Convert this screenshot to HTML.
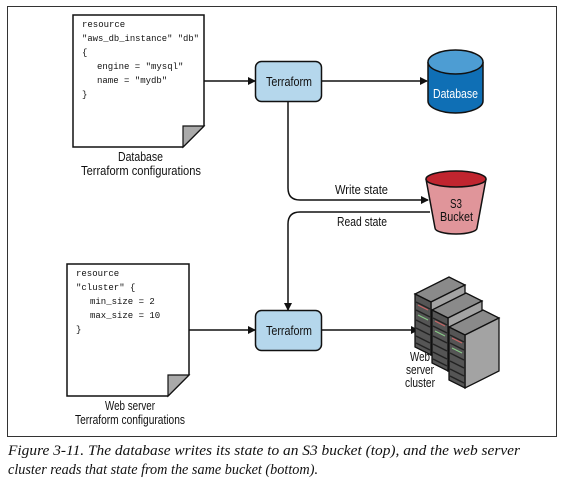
<!DOCTYPE html>
<html><head><meta charset="utf-8"><style>
html,body{margin:0;padding:0;background:#fff;}
svg{display:block;}
.lbl{font-family:"Liberation Sans Narrow","Liberation Sans",sans-serif;font-size:12.5px;fill:#111;}
.code{font-family:"Liberation Mono","DejaVu Sans Mono",monospace;font-size:9px;fill:#111;}
.cap{font-family:"Liberation Serif",serif;font-style:italic;font-size:15px;fill:#111;}
</style></head><body>
<svg width="567" height="479" viewBox="0 0 567 479" xmlns="http://www.w3.org/2000/svg">
<defs>
<marker id="ar" markerWidth="8" markerHeight="8" refX="7" refY="4" orient="auto" markerUnits="userSpaceOnUse">
<path d="M0,0 L8,4 L0,8 z" fill="#111"/></marker>
<g id="tower">
<polygon points="0,0 16,8 50,-9 34,-17" fill="#8a8a8a" stroke="#111" stroke-width="1.3"/>
<polygon points="16,8 50,-9 50,44 16,61" fill="#a3a3a3" stroke="#111" stroke-width="1.3"/>
<polygon points="0,0 16,8 16,61 0,53" fill="#555" stroke="#111" stroke-width="1.3"/>
<g stroke="#222" stroke-width="1.5">
<line x1="1" y1="8" x2="15" y2="15"/><line x1="1" y1="16" x2="15" y2="23"/>
<line x1="1" y1="26" x2="15" y2="33"/><line x1="1" y1="34" x2="15" y2="41"/>
<line x1="1" y1="42" x2="15" y2="49"/><line x1="1" y1="49" x2="15" y2="56"/>
</g>
<line x1="3" y1="11" x2="13" y2="16" stroke="#c66" stroke-width="1"/>
<line x1="3" y1="21" x2="13" y2="26" stroke="#8c8" stroke-width="1"/>
</g>
</defs>
<rect x="7.5" y="6.5" width="549" height="430" fill="none" stroke="#333" stroke-width="1"/>

<!-- doc 1 -->
<polygon points="73,15 204,15 204,126 183,147 73,147" fill="#fff" stroke="#111" stroke-width="1.5"/>
<polygon points="183,147 183,126 204,126" fill="#aaa" stroke="#111" stroke-width="1.2"/>
<text class="code" x="82" y="27">resource</text>
<text class="code" x="82" y="41" textLength="117" lengthAdjust="spacingAndGlyphs">"aws_db_instance" "db"</text>
<text class="code" x="82" y="55">{</text>
<text class="code" x="97" y="69">engine = "mysql"</text>
<text class="code" x="97" y="83">name = "mydb"</text>
<text class="code" x="82" y="97">}</text>
<text class="lbl" x="118" y="161" textLength="45" lengthAdjust="spacingAndGlyphs">Database</text>
<text class="lbl" x="81" y="175" textLength="120" lengthAdjust="spacingAndGlyphs">Terraform configurations</text>

<!-- doc 2 -->
<polygon points="67,264 189,264 189,375 168,396 67,396" fill="#fff" stroke="#111" stroke-width="1.5"/>
<polygon points="168,396 168,375 189,375" fill="#aaa" stroke="#111" stroke-width="1.2"/>
<text class="code" x="76" y="276">resource</text>
<text class="code" x="76" y="290">"cluster" {</text>
<text class="code" x="90" y="304">min_size = 2</text>
<text class="code" x="90" y="318">max_size = 10</text>
<text class="code" x="76" y="332">}</text>
<text class="lbl" x="105" y="410" textLength="50" lengthAdjust="spacingAndGlyphs">Web server</text>
<text class="lbl" x="75" y="424" textLength="110" lengthAdjust="spacingAndGlyphs">Terraform configurations</text>

<!-- connectors -->
<g stroke="#111" stroke-width="1.5" fill="none">
<line x1="204" y1="81" x2="255" y2="81" marker-end="url(#ar)"/>
<line x1="321" y1="81" x2="427" y2="81" marker-end="url(#ar)"/>
<path d="M288,101 L288,188 Q288,200 300,200 L428,200" marker-end="url(#ar)"/>
<path d="M430,212 L300,212 Q288,212 288,224 L288,310" marker-end="url(#ar)"/>
<line x1="189" y1="330" x2="255" y2="330" marker-end="url(#ar)"/>
<line x1="321" y1="330" x2="418" y2="330" marker-end="url(#ar)"/>
</g>
<text class="lbl" x="335" y="194" textLength="53" lengthAdjust="spacingAndGlyphs">Write state</text>
<text class="lbl" x="337" y="226" textLength="50" lengthAdjust="spacingAndGlyphs">Read state</text>

<!-- terraform boxes -->
<rect x="255.5" y="61.5" width="66" height="40" rx="6" fill="#b5d7ec" stroke="#111" stroke-width="1.5"/>
<text class="lbl" x="266" y="86" textLength="46" lengthAdjust="spacingAndGlyphs">Terraform</text>
<rect x="255.5" y="310.5" width="66" height="40" rx="6" fill="#b5d7ec" stroke="#111" stroke-width="1.5"/>
<text class="lbl" x="266" y="335" textLength="46" lengthAdjust="spacingAndGlyphs">Terraform</text>

<!-- database cylinder -->
<path d="M428,62 L428,101 A27.5,12 0 0 0 483,101 L483,62" fill="#0f6fb5" stroke="#111" stroke-width="1.5"/>
<ellipse cx="455.5" cy="62" rx="27.5" ry="12" fill="#4d9dd3" stroke="#111" stroke-width="1.5"/>
<text class="lbl" x="433" y="98" textLength="45" lengthAdjust="spacingAndGlyphs" style="fill:#fff">Database</text>

<!-- s3 bucket -->
<path d="M426,179 L435,228 A21,6 0 0 0 477,228 L486,179" fill="#e0959a" stroke="#111" stroke-width="1.5"/>
<ellipse cx="456" cy="179" rx="30" ry="8" fill="#c0252f" stroke="#111" stroke-width="1.5"/>
<text class="lbl" x="450" y="208" textLength="12" lengthAdjust="spacingAndGlyphs">S3</text>
<text class="lbl" x="440" y="221" textLength="33" lengthAdjust="spacingAndGlyphs">Bucket</text>

<!-- servers -->
<use href="#tower" x="415" y="294"/>
<use href="#tower" x="432" y="310"/>
<use href="#tower" x="449" y="327"/>
<text class="lbl" x="410" y="361" textLength="20" lengthAdjust="spacingAndGlyphs">Web</text>
<text class="lbl" x="406" y="374" textLength="28" lengthAdjust="spacingAndGlyphs">server</text>
<text class="lbl" x="405" y="387" textLength="30" lengthAdjust="spacingAndGlyphs">cluster</text>

<text class="cap" x="8" y="455" textLength="512" lengthAdjust="spacingAndGlyphs">Figure 3-11. The database writes its state to an S3 bucket (top), and the web server</text>
<text class="cap" x="8" y="474" textLength="310" lengthAdjust="spacingAndGlyphs">cluster reads that state from the same bucket (bottom).</text>
</svg>
</body></html>
